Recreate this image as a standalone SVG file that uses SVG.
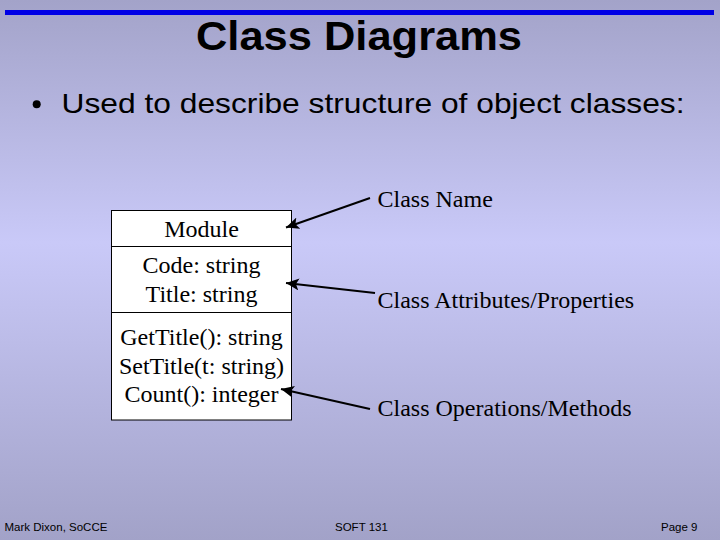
<svg xmlns="http://www.w3.org/2000/svg" width="720" height="540" viewBox="0 0 720 540">
  <defs>
    <linearGradient id="bg" x1="0" y1="0" x2="0" y2="1">
      <stop offset="0" stop-color="#a3a3c9"/>
      <stop offset="0.45" stop-color="#c9c9f8"/>
      <stop offset="1" stop-color="#a2a2c8"/>
    </linearGradient>
    <marker id="arr" markerUnits="userSpaceOnUse" markerWidth="14" markerHeight="12" refX="13" refY="6" orient="auto">
      <path d="M0,0 L13,6 L0,12 L3,6 Z" fill="#000"/>
    </marker>
  </defs>
  <style>
    .serif { font-family: "Liberation Serif", "Times New Roman", serif; font-size: 24px; fill: #000; }
    .sans { font-family: "Liberation Sans", Arial, sans-serif; fill: #000; }
    .foot { font-family: "Liberation Sans", Arial, sans-serif; font-size: 11.5px; fill: #000; }
    .conn { stroke: #000; stroke-width: 2; fill: none; marker-end: url(#arr); }
  </style>
  <rect x="0" y="0" width="720" height="540" fill="url(#bg)"/>
  <line x1="5" y1="12.5" x2="714" y2="12.5" stroke="#0000e6" stroke-width="5"/>
  <text class="sans" x="359" y="50" font-size="40" font-weight="bold" text-anchor="middle" textLength="326" lengthAdjust="spacingAndGlyphs">Class Diagrams</text>
  <circle cx="36.7" cy="104.2" r="4" fill="#000"/>
  <text class="sans" x="61.5" y="113.3" font-size="28" textLength="623" lengthAdjust="spacingAndGlyphs">Used to describe structure of object classes:</text>

  <g id="class-module" font-family="'Liberation Serif', 'Times New Roman', serif">
    <rect x="111.5" y="210.5" width="180" height="209.5" fill="#fff" stroke="#000" stroke-width="1"/>
    <line x1="111.5" y1="246.5" x2="291.5" y2="246.5" stroke="#000" stroke-width="1"/>
    <line x1="111.5" y1="312.5" x2="291.5" y2="312.5" stroke="#000" stroke-width="1"/>
    <text class="serif" x="201.5" y="236.5" text-anchor="middle">Module</text>
    <text class="serif" x="201.5" y="272.7" text-anchor="middle">Code: string</text>
    <text class="serif" x="201.5" y="301.7" text-anchor="middle">Title: string</text>
    <text class="serif" x="201.5" y="345" text-anchor="middle">GetTitle(): string</text>
    <text class="serif" x="201.5" y="374" text-anchor="middle">SetTitle(t: string)</text>
    <text class="serif" x="201.5" y="402" text-anchor="middle">Count(): integer</text>
  </g>

  <g id="label-name"><text class="serif" x="377.5" y="206.7">Class Name</text></g>
  <g id="label-attributes"><text class="serif" x="377.5" y="308.3">Class Attributes/Properties</text></g>
  <g id="label-operations"><text class="serif" x="377.5" y="415.5">Class Operations/Methods</text></g>

  <g id="connectors">
    <line class="conn" x1="370" y1="198" x2="286" y2="227.5"/>
    <line class="conn" x1="375" y1="293" x2="286" y2="283"/>
    <line class="conn" x1="370" y1="409" x2="281" y2="389"/>
  </g>

  <g id="footer">
    <text class="foot" x="4.5" y="531">Mark Dixon, SoCCE</text>
    <text class="foot" x="335" y="531">SOFT 131</text>
    <text class="foot" x="661" y="531">Page 9</text>
  </g>
</svg>
